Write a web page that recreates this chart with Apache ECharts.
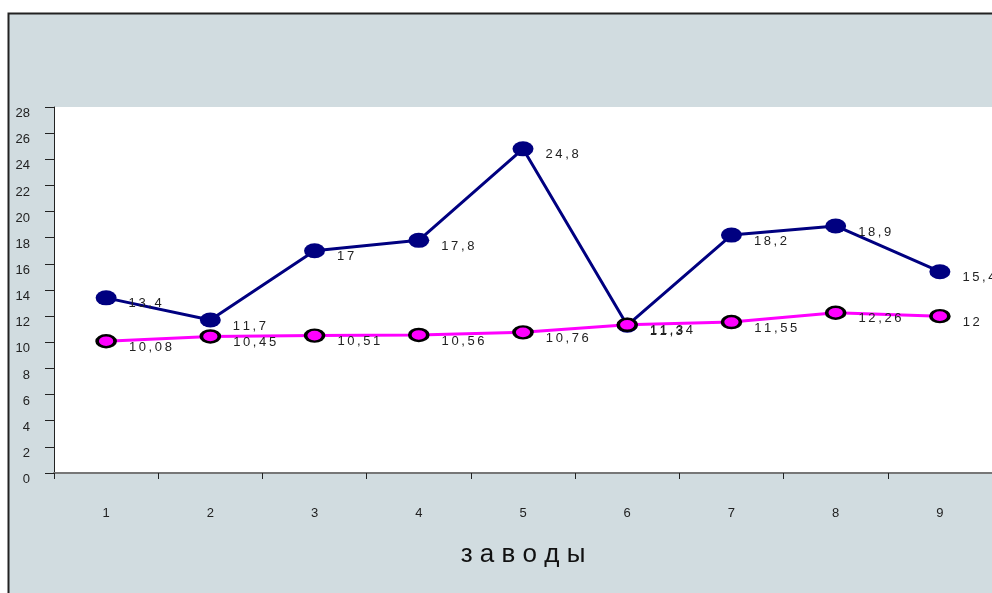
<!DOCTYPE html>
<html><head><meta charset="utf-8">
<script src="https://cdn.jsdelivr.net/npm/echarts@6/dist/echarts.min.js"></script>
<style>html,body{margin:0;padding:0;background:#fff}#c{width:992px;height:593px}</style>
</head><body><div id="c"></div>
<script>
const categories = ['1','2','3','4','5','6','7','8','9'];
const seriesNavy = [13.4, 11.7, 17, 17.8, 24.8, 11.3, 18.2, 18.9, 15.4];
const seriesPink = [10.08, 10.45, 10.51, 10.56, 10.76, 11.34, 11.55, 12.26, 12];
const axisName = 'заводы';
const sp = s => String(s).replace('.', ',').split('').join('\u2009');
const chart = echarts.init(document.getElementById('c'), null, {renderer:'canvas'});
const lbl = {show:true, position:'right', distance:12, offset:[0,6], color:'#222', fontSize:13, fontFamily:'Liberation Sans, Arial', formatter:p=>sp(p.value)};
chart.setOption({
  animation:false,
  graphic:[{type:'rect', z:-10, shape:{x:8.5,y:13.5,width:1000,height:600}, style:{fill:'#d1dce0', stroke:'#222', lineWidth:2}}],
  grid:{left:54, top:107, right:0, bottom:120, show:true, backgroundColor:'#fff', borderWidth:0},
  xAxis:{type:'category', data:categories, boundaryGap:true,
    name:axisName.split('').join(' '), nameLocation:'middle', nameGap:69,
    nameTextStyle:{fontSize:26, color:'#111', fontFamily:'Liberation Sans, Arial'},
    axisLine:{lineStyle:{color:'#777', width:2}},
    axisTick:{show:true, length:6, lineStyle:{color:'#222'}},
    axisLabel:{margin:34, fontSize:13, color:'#222', fontFamily:'Liberation Sans, Arial'}},
  yAxis:{type:'value', min:0, max:28, interval:2,
    axisLine:{show:true, lineStyle:{color:'#222', width:1}},
    axisTick:{show:true, length:9, lineStyle:{color:'#222'}},
    splitLine:{show:false},
    axisLabel:{align:'right', verticalAlign:'top', margin:24, fontSize:13, color:'#222', fontFamily:'Liberation Sans, Arial'}},
  series:[
    {type:'line', data:seriesNavy, symbol:'circle', symbolSize:[21,15],
     lineStyle:{color:'#000080', width:3}, itemStyle:{color:'#000080'}, label:lbl, z:3},
    {type:'line', data:seriesPink, symbol:'circle', symbolSize:[18,12],
     lineStyle:{color:'#ff00ff', width:3}, itemStyle:{color:'#ff00ff', borderColor:'#000', borderWidth:3}, label:lbl, z:4}
  ]
});
</script></body></html>
